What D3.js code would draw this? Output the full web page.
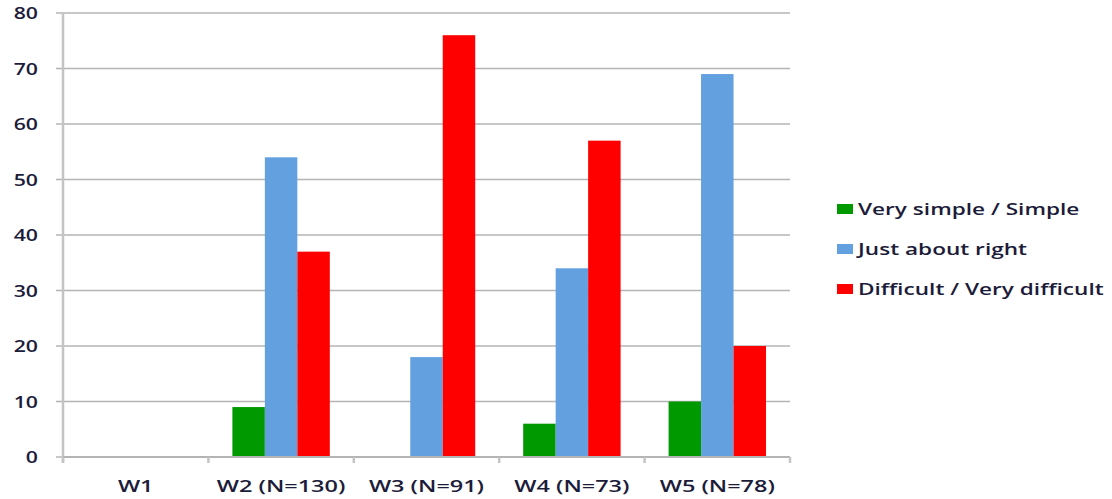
<!DOCTYPE html>
<html>
<head>
<meta charset="utf-8">
<script src="https://cdn.jsdelivr.net/npm/d3@7"></script>
<style>
  body { margin: 0; background: #fff; }
  text { font-family: "Open Sans", sans-serif; fill: #1c1c3a; }
</style>
</head>
<body>
<div id="chart"></div>
<script>
const categories = ["W1", "W2 (N=130)", "W3 (N=91)", "W4 (N=73)", "W5 (N=78)"];
const seriesNames = ["Very simple / Simple", "Just about right", "Difficult / Very difficult"];
const seriesColors = ["#009a00", "#62a0e0", "#ff0000"];
const verySimple = [0, 9, 0, 6, 10];
const aboutRight = [0, 54, 18, 34, 69];
const difficult = [0, 37, 76, 57, 20];
const yTicks = [0, 10, 20, 30, 40, 50, 60, 70, 80];

const series = [verySimple, aboutRight, difficult];

const W = 1112, H = 499;
const margin = { top: 13, right: 322, bottom: 42, left: 63 };
const width = W - margin.left - margin.right,
  height = H - margin.top - margin.bottom;

// the source picture is stretched sideways, so the text is too
const stretch = 1.38;

const svg = d3.select("#chart")
  .append("svg")
  .attr("width", W)
  .attr("height", H)
  .append("g")
  .attr("transform", `translate(${margin.left},${margin.top})`);

const x = d3.scaleBand()
  .domain(categories)
  .range([0, width]);

const bw = x.bandwidth();
const xs = d3.scaleBand()
  .domain(d3.range(series.length))
  .range([bw * 0.165, bw * 0.835]);

const y = d3.scaleLinear()
  .domain([0, 80])
  .range([height, 0]);

// gridlines
svg.append("g")
  .selectAll("line")
  .data(yTicks)
  .join("line")
  .attr("x1", -7)
  .attr("x2", width)
  .attr("y1", d => y(d))
  .attr("y2", d => y(d))
  .attr("stroke", "#b4b4b4")
  .attr("stroke-width", 1.5);

// y labels
svg.append("g")
  .selectAll("text")
  .data(yTicks)
  .join("text")
  .attr("transform", d => `translate(-25,${y(d)}) scale(1.25,1)`)
  .attr("dy", "0.36em")
  .attr("text-anchor", "end")
  .style("font-size", "17px")
  .style("font-weight", 600)
  .text(d => d);

// bars
categories.forEach((c, i) => {
  svg.append("g")
    .selectAll("rect")
    .data(series.map((s, k) => ({ k: k, v: s[i] })).filter(d => d.v > 0))
    .join("rect")
    .attr("x", d => x(c) + xs(d.k))
    .attr("width", xs.bandwidth())
    .attr("y", d => y(d.v))
    .attr("height", d => y(0) - y(d.v))
    .attr("fill", d => seriesColors[d.k]);
});

// axis lines
svg.append("line")
  .attr("x1", 0).attr("x2", 0)
  .attr("y1", 0).attr("y2", height + 6)
  .attr("stroke", "#c4c4c4")
  .attr("stroke-width", 2.5);

svg.append("line")
  .attr("x1", 0).attr("x2", width)
  .attr("y1", height).attr("y2", height)
  .attr("stroke", "#b4b4b4")
  .attr("stroke-width", 2);

svg.append("g")
  .selectAll("line")
  .data(categories.map(c => x(c) + bw).concat([0]))
  .join("line")
  .attr("x1", d => d).attr("x2", d => d)
  .attr("y1", height).attr("y2", height + 6)
  .attr("stroke", "#c4c4c4")
  .attr("stroke-width", 2.5);

// x labels
svg.append("g")
  .selectAll("text")
  .data(categories)
  .join("text")
  .attr("transform", d => `translate(${x(d) + bw / 2},${height + 29}) scale(${stretch},1)`)
  .attr("dy", "0.36em")
  .attr("text-anchor", "middle")
  .style("font-size", "17px")
  .style("font-weight", 600)
  .text(d => d);

// legend
const legend = svg.append("g")
  .attr("transform", `translate(${837 - margin.left},${209 - margin.top})`);

const item = legend.selectAll("g")
  .data(seriesNames)
  .join("g")
  .attr("transform", (d, i) => `translate(0,${i * 40})`);

item.append("rect")
  .attr("x", 0)
  .attr("y", -5)
  .attr("width", 16)
  .attr("height", 10)
  .attr("fill", (d, i) => seriesColors[i]);

item.append("text")
  .attr("transform", `translate(21,0) scale(1.33,1)`)
  .attr("dy", "0.36em")
  .style("font-size", "17px")
  .style("font-weight", 600)
  .text(d => d);
</script>
</body>
</html>
